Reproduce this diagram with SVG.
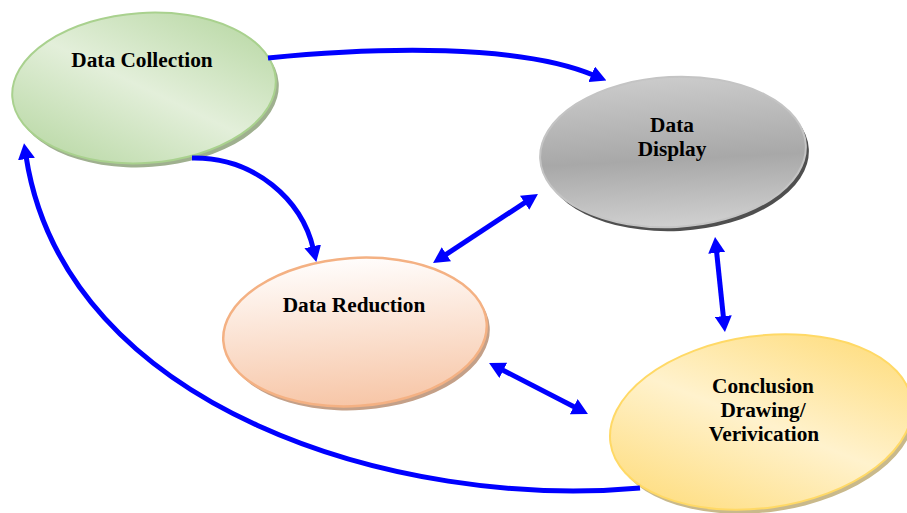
<svg xmlns="http://www.w3.org/2000/svg" width="907" height="513" viewBox="0 0 907 513">
<style>
  .lbl { font-family: "Liberation Serif", "Times New Roman", serif; font-weight: bold; font-size: 21.3px; fill: #000; text-anchor: middle; }
  .conn { fill: none; stroke: #0000ff; stroke-width: 5; }
</style>
<defs>
  <linearGradient id="gGreen" x1="1" y1="0" x2="0" y2="1">
    <stop offset="0" stop-color="#b1d49b"/>
    <stop offset="0.5" stop-color="#e3efda"/>
    <stop offset="1" stop-color="#b1d49b"/>
  </linearGradient>
  <linearGradient id="gGray" x1="0" y1="0" x2="0" y2="1">
    <stop offset="0" stop-color="#cbcbcb"/>
    <stop offset="0.55" stop-color="#a8a8a8"/>
    <stop offset="1" stop-color="#d0d0d0"/>
  </linearGradient>
  <linearGradient id="gOrange" x1="0" y1="0" x2="0" y2="1">
    <stop offset="0" stop-color="#fffdfc"/>
    <stop offset="1" stop-color="#f7c6a7"/>
  </linearGradient>
  <linearGradient id="gYellow" x1="1" y1="0" x2="0" y2="1">
    <stop offset="0" stop-color="#fed86c"/>
    <stop offset="0.5" stop-color="#fff2cd"/>
    <stop offset="1" stop-color="#fed86c"/>
  </linearGradient>
  <marker id="ah" viewBox="0 0 16 17" markerWidth="16" markerHeight="17" refX="3" refY="8.5" markerUnits="userSpaceOnUse" orient="auto-start-reverse">
    <path d="M0,0 L16,8.5 L0,17 z" fill="#0000ff"/>
  </marker>
</defs>

<g id="data-collection">
  <ellipse cx="147" cy="92" rx="132" ry="75" transform="rotate(-4 147 92)" fill="#9fb08f"/>
  <ellipse cx="144" cy="88" rx="132" ry="75" transform="rotate(-4 144 88)" fill="url(#gGreen)" stroke="#a9d18e" stroke-width="2"/>
  <text class="lbl" x="142" y="67">Data Collection</text>
</g>

<g id="data-display">
  <ellipse cx="676" cy="156" rx="133" ry="75" transform="rotate(-3 676 156)" fill="#4f4f4f"/>
  <ellipse cx="673" cy="152" rx="133" ry="75" transform="rotate(-3 673 152)" fill="url(#gGray)" stroke="#c4c4c4" stroke-width="2"/>
  <text class="lbl" x="672" y="132">Data</text>
  <text class="lbl" x="672" y="156">Display</text>
</g>

<g id="data-reduction">
  <ellipse cx="358" cy="336" rx="132" ry="74" transform="rotate(-4 358 336)" fill="#c4a088"/>
  <ellipse cx="355" cy="332" rx="132" ry="74" transform="rotate(-4 355 332)" fill="url(#gOrange)" stroke="#f4b183" stroke-width="2.5"/>
  <text class="lbl" x="354" y="312">Data Reduction</text>
</g>

<g id="conclusion">
  <ellipse cx="764" cy="426" rx="152" ry="86" transform="rotate(-8 764 426)" fill="#c9b98b"/>
  <ellipse cx="761" cy="422" rx="152" ry="86" transform="rotate(-8 761 422)" fill="url(#gYellow)" stroke="#ffd966" stroke-width="2"/>
  <text class="lbl" x="763" y="393">Conclusion</text>
  <text class="lbl" x="763" y="417">Drawing/</text>
  <text class="lbl" x="764" y="441">Verivication</text>
</g>

<g id="connectors">
  <path class="conn" d="M268,58 C380,47 520,44 594.4,75.5" marker-end="url(#ah)"/>
  <path class="conn" d="M192,158 C255,157 302,200 313.4,249.3" marker-end="url(#ah)"/>
  <path class="conn" d="M640,488 C400,510 65,410 26,156" marker-end="url(#ah)"/>
  <path class="conn" d="M443.9,255.9 L527.1,201.1" marker-start="url(#ah)" marker-end="url(#ah)"/>
  <path class="conn" d="M716.4,249.9 L723.6,319.1" marker-start="url(#ah)" marker-end="url(#ah)"/>
  <path class="conn" d="M500.6,369 L576.4,408" marker-start="url(#ah)" marker-end="url(#ah)"/>
</g>
</svg>
